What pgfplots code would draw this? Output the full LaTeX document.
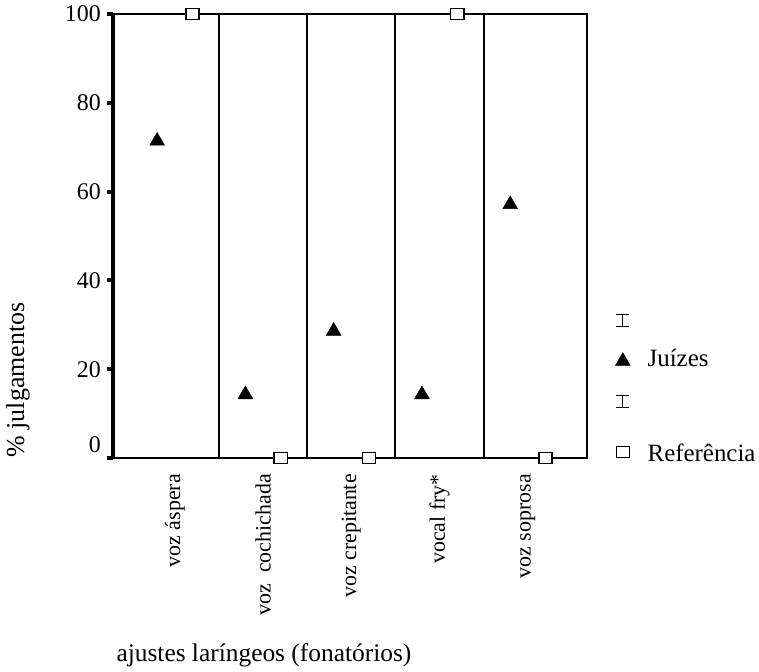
\documentclass[border=0pt]{standalone}
\usepackage{fontspec}
\setmainfont{Liberation Serif}
\usepackage{pgfplots}
\usepackage{pgfplotstable}
\pgfplotsset{compat=1.18}

% x = category index (0..4) with offset; y = % julgamentos
\pgfplotstableread{
x    y
-0.2 71.4
0.8  14.3
1.8  28.6
2.8  14.3
3.8  57.1
}\juizes

\pgfplotstableread{
x    y
0.2  100
1.2  0
2.2  0
3.2  100
4.2  0
}\referencia

\pgfplotsset{
  errbarimg/.style={legend image code/.code={
      \draw[black, line width=1.3bp]
        (-6.5bp,#1-6bp) -- (6.5bp,#1-6bp)
        (0bp,#1-6bp) -- (0bp,#1+6bp)
        (-6.5bp,#1+6bp) -- (6.5bp,#1+6bp);}},
  markimg/.style={legend image code/.code={
      \draw[mark repeat=2,mark phase=2,##1] plot coordinates {(-3bp,#1)(0bp,#1)(3bp,#1)};}},
}

\begin{document}
\begin{tikzpicture}
\begin{axis}[
  name=ax, set layers,
  scale only axis, width=474bp, height=444bp,
  xmin=-0.7, xmax=4.67, ymin=0, ymax=100,
  clip=false,
  axis line style={black, line width=1.6bp},
  xtick={0,1,2,3,4},
  xticklabels={voz áspera, voz\ \ cochichada, voz crepitante, vocal fry*, voz soprosa},
  xtick style={draw=none},
  xticklabel style={rotate=90, anchor=east, inner sep=0pt, font=\fontsize{22}{24}\selectfont},
  xticklabel shift=10bp,
  extra x ticks={0.5,1.5,2.5,3.5},
  extra x tick labels={},
  extra x tick style={grid=major, major grid style={black, line width=2bp}},
  ytick={0,20,40,60,80,100},
  yticklabels={\raisebox{26bp}{0},20,40,60,80,100},
  ytick pos=left, tick align=outside,
  major tick length=6bp,
  ytick style={draw=none},
  yticklabel style={inner sep=0pt, font=\fontsize{24}{26}\selectfont},
  yticklabel shift=6bp,
  ylabel={\% julgamentos},
  ylabel style={at={(axis description cs:-0.2004,0.1757)}, anchor=center, font=\fontsize{26}{28}\selectfont},
  xlabel={ajustes laríngeos (fonatórios)},
  xlabel style={at={(axis description cs:0,-0.4437)}, anchor=west, font=\fontsize{25.5}{28}\selectfont},
  legend cell align=left,
  legend style={at={(axis description cs:1.060,0.3502)}, anchor=north west,
    draw=none, fill=none, inner sep=0pt, outer sep=0pt,
    row sep=22.5bp, column sep=17.5bp,
    nodes={inner sep=0pt, text height=17bp, text depth=6bp, font=\fontsize{25}{27}\selectfont}},
]
\addlegendimage{errbarimg=-6.5bp}
\addlegendentry{}

\addplot[only marks, mark=triangle*, mark size=8.5bp, black, mark options={fill=black, line width=0.5bp}, markimg=0bp]
  table[x=x,y=y] {\juizes};
\addlegendentry{Juízes}

\addlegendimage{errbarimg=8.5bp}
\addlegendentry{}

\addplot[only marks, mark=square*, mark size=5.5bp, black, mark options={fill=white, line width=1.4bp, xscale=1.2}, markimg=4bp]
  table[x=x,y=y] {\referencia};
\addlegendentry{Referência}

% thick left spine and its square tick marks
\draw[black, line width=3bp] (rel axis cs:0,0) -- (rel axis cs:0,1);
\pgfplotsinvokeforeach{0,20,40,60,80,100}{
  \draw[black, line width=4bp] (axis cs:-0.7,#1) -- ([xshift=-6bp]axis cs:-0.7,#1);
}
\end{axis}
\pgfresetboundingbox
\path ([shift={(-113bp,-214bp)}]ax.south west) rectangle ([shift={(646bp,458bp)}]ax.south west);
\end{tikzpicture}
\end{document}
